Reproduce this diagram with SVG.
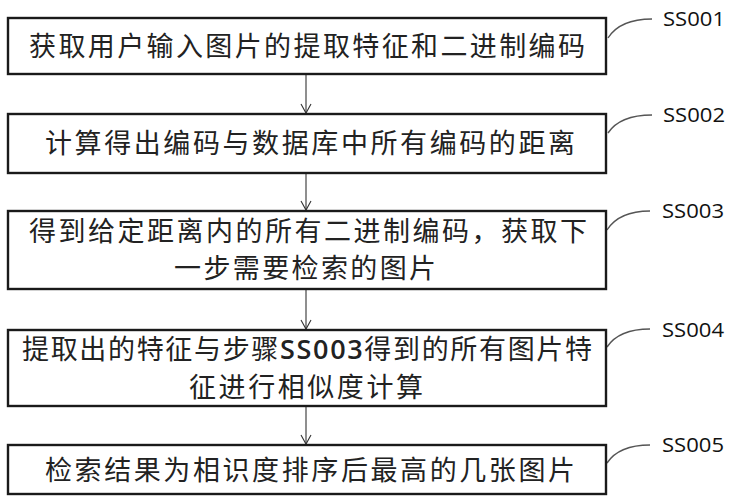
<svg xmlns="http://www.w3.org/2000/svg" width="736" height="500" viewBox="0 0 736 500">
<style>
.box{fill:#fff;stroke:#1a1a1a;stroke-width:2.4}
.t{font-family:"Noto Sans CJK SC","Noto Sans",sans-serif;font-size:27px;fill:#222;text-anchor:middle}
.lab{font-family:"Open Sans","Liberation Sans",sans-serif;font-size:20px;fill:#111}
.lead{fill:none;stroke:#555;stroke-width:1.4}
.arr{stroke:#333;stroke-width:1.1;fill:none}
.b{font-family:"Open Sans","Liberation Sans",sans-serif;font-weight:600}
</style>
<defs>
<marker id="ah" markerUnits="userSpaceOnUse" markerWidth="14" markerHeight="14" viewBox="-10 -7 12 14" refX="0" refY="0" orient="auto">
<path d="M-9,-5 L0,0 L-9,5" fill="none" stroke="#333" stroke-width="1.1"/>
</marker>
</defs>
<rect width="736" height="500" fill="#fff"/>
<g id="connectors">
<line class="arr" x1="306" y1="75" x2="306" y2="113" marker-end="url(#ah)"/>
<line class="arr" x1="306" y1="174" x2="306" y2="210" marker-end="url(#ah)"/>
<line class="arr" x1="306" y1="290" x2="306" y2="329" marker-end="url(#ah)"/>
<line class="arr" x1="306" y1="407" x2="306" y2="444" marker-end="url(#ah)"/>
<path class="lead" d="M608,38 Q620,19 652,19"/>
<path class="lead" d="M608,133 Q620,115 652,115"/>
<path class="lead" d="M607,230 Q619,211 650,211"/>
<path class="lead" d="M607,347 Q619,329 650,329"/>
<path class="lead" d="M607,463 Q619,445 650,445"/>
</g>
<g id="SS001">
<rect class="box" x="8" y="18" width="598" height="56"/>
<text class="t" x="307" y="56" textLength="556" lengthAdjust="spacing">获取用户输入图片的提取特征和二进制编码</text>
<text class="lab" x="663" y="26" textLength="62" lengthAdjust="spacingAndGlyphs">SS001</text>
</g>
<g id="SS002">
<rect class="box" x="8" y="114" width="598" height="59"/>
<text class="t" x="310" y="153" textLength="530" lengthAdjust="spacing">计算得出编码与数据库中所有编码的距离</text>
<text class="lab" x="663" y="122" textLength="62" lengthAdjust="spacingAndGlyphs">SS002</text>
</g>
<g id="SS003">
<rect class="box" x="8" y="211" width="598" height="78"/>
<text class="t" x="308" y="241" textLength="558" lengthAdjust="spacing">得到给定距离内的所有二进制编码，获取下</text>
<text class="t" x="305" y="278" textLength="262" lengthAdjust="spacing">一步需要检索的图片</text>
<text class="lab" x="662" y="218" textLength="62" lengthAdjust="spacingAndGlyphs">SS003</text>
</g>
<g id="SS004">
<rect class="box" x="8" y="330" width="598" height="76"/>
<text class="t" x="307" y="359" textLength="570" lengthAdjust="spacing">提取出的特征与步骤<tspan class="b">SS003</tspan>得到的所有图片特</text>
<text class="t" x="306" y="397" textLength="234" lengthAdjust="spacing">征进行相似度计算</text>
<text class="lab" x="662" y="337" textLength="62" lengthAdjust="spacingAndGlyphs">SS004</text>
</g>
<g id="SS005">
<rect class="box" x="8" y="445" width="598" height="49"/>
<text class="t" x="310" y="480" textLength="530" lengthAdjust="spacing">检索结果为相识度排序后最高的几张图片</text>
<text class="lab" x="662" y="452" textLength="62" lengthAdjust="spacingAndGlyphs">SS005</text>
</g>
</svg>
